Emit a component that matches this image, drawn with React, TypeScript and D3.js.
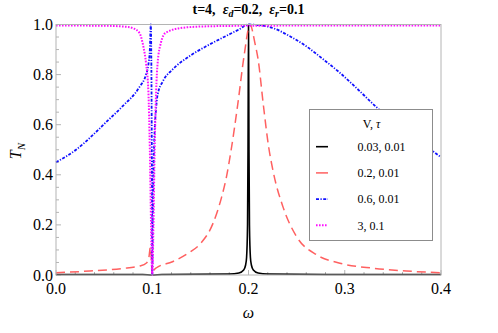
import React from "react";
import * as d3 from "d3";

// values: [omega, T_N]
const seriesBlack: [number, number][] = [
  [0, 0.002], [0.09, 0.002], [0.1, 0.0], [0.11, 0.002], [0.18, 0.004], [0.19, 0.008],
  [0.195, 0.02], [0.197, 0.04], [0.198, 0.07], [0.199, 0.2], [0.1995, 0.5], [0.2, 1.0],
  [0.2005, 0.5], [0.201, 0.2], [0.202, 0.07], [0.203, 0.04], [0.205, 0.02], [0.21, 0.008],
  [0.22, 0.004], [0.3, 0.002], [0.4, 0.002],
];

const seriesRed: [number, number][] = [
  [0, 0.009], [0.035, 0.016], [0.069, 0.026], [0.087, 0.036], [0.094, 0.048], [0.0965, 0.07],
  [0.098, 0.11], [0.099, 0.07], [0.0997, 0.02], [0.1, 0.0], [0.1008, 0.012], [0.104, 0.028],
  [0.121, 0.053], [0.1385, 0.09], [0.15, 0.125], [0.163, 0.205], [0.172, 0.31], [0.177, 0.39],
  [0.182, 0.5], [0.1888, 0.68], [0.1956, 0.88], [0.2015, 1.0], [0.207, 0.92], [0.21, 0.86],
  [0.2154, 0.68], [0.2206, 0.52], [0.2258, 0.41], [0.236, 0.27], [0.25, 0.153], [0.271, 0.08],
  [0.295, 0.047], [0.33, 0.027], [0.364, 0.016], [0.4, 0.009],
];

const seriesBlue: [number, number][] = [
  [0, 0.45], [0.0208, 0.5], [0.04, 0.565], [0.052, 0.61], [0.069, 0.673], [0.0866, 0.75],
  [0.0935, 0.8], [0.096, 0.84], [0.0975, 0.9], [0.0985, 1.0], [0.0993, 0.7], [0.0998, 0.25],
  [0.1, 0.0], [0.1005, 0.2], [0.1012, 0.4], [0.1022, 0.55], [0.1039, 0.66], [0.1056, 0.72],
  [0.111, 0.773], [0.121, 0.82], [0.1385, 0.873], [0.156, 0.913], [0.173, 0.947], [0.19, 0.98],
  [0.2, 1.0], [0.21, 0.998], [0.226, 0.985], [0.243, 0.953], [0.26, 0.913], [0.278, 0.86],
  [0.295, 0.807], [0.312, 0.747], [0.333, 0.67], [0.36, 0.585], [0.391, 0.496], [0.4, 0.47],
];

const seriesMagenta: [number, number][] = [
  [0, 0.996], [0.05, 0.995], [0.075, 0.99], [0.08, 0.985], [0.0866, 0.967], [0.0907, 0.913],
  [0.0935, 0.847], [0.096, 0.73], [0.0975, 0.5], [0.0988, 0.19], [0.0996, 0.03], [0.1, 0.0],
  [0.1004, 0.03], [0.1012, 0.19], [0.1025, 0.5], [0.104, 0.73], [0.1056, 0.847], [0.109, 0.927],
  [0.114, 0.967], [0.1316, 0.987], [0.16, 0.993], [0.2, 0.995], [0.3, 0.996], [0.4, 0.996],
];

const legendLabels = ["0.03, 0.01", "0.2, 0.01", "0.6, 0.01", "3, 0.1"];
const xTicks = [0, 0.1, 0.2, 0.3, 0.4];
const yTicks = [0, 0.2, 0.4, 0.6, 0.8, 1.0];

const FONT = "'Liberation Serif', 'Times New Roman', serif";

const App = () => {
  const width = 498;
  const height = 333;
  const x = d3.scaleLinear().domain([0, 0.4]).range([56, 441]);
  const y = d3.scaleLinear().domain([0, 1]).range([275, 24.5]);

  const line = d3
    .line<[number, number]>()
    .x((d) => x(d[0]))
    .y((d) => y(d[1]))
    .curve(d3.curveMonotoneX);

  const styles = [
    { data: seriesBlack, color: "#000000", dash: "none", w: 1.6 },
    { data: seriesRed, color: "#ff6060", dash: "9,5", w: 1.5 },
    { data: seriesBlue, color: "#1010ff", dash: "3,1.5,1.2,1.5", w: 1.8 },
    { data: seriesMagenta, color: "#ff10ff", dash: "1.6,1.4", w: 2 },
  ];

  const xMinor = d3.range(0, 0.4001, 0.02);
  const yMinor = d3.range(0, 1.0001, 0.05);
  const frame = "#b4b4b4";

  return (
    <svg width={width} height={height} style={{ position: "absolute", left: 0, top: 0 }}>
      <rect x={0} y={0} width={width} height={height} fill="#fff" />
      {/* title */}
      <text x={248.5} y={13.5} textAnchor="middle" fontFamily={FONT} fontSize={14} fontWeight="bold">
        t=4,{"\u00a0\u00a0"}
        <tspan fontStyle="italic">ε</tspan>
        <tspan fontSize={10} dy={3} fontStyle="italic">d</tspan>
        <tspan dy={-3}>=0.2,{"\u00a0\u00a0"}</tspan>
        <tspan fontStyle="italic">ε</tspan>
        <tspan fontSize={10} dy={3} fontStyle="italic">r</tspan>
        <tspan dy={-3}>=0.1</tspan>
      </text>

      {/* ticks */}
      <g stroke={frame} strokeWidth={1}>
        {xMinor.map((t, i) => (
          <line key={"xm" + i} x1={x(t)} x2={x(t)} y1={y(0)} y2={y(0) - (i % 5 === 0 ? 5 : 3)} />
        ))}
        {yMinor.map((t, i) => (
          <line key={"ym" + i} x1={x(0)} x2={x(0) + (i % 4 === 0 ? 5 : 3)} y1={y(t)} y2={y(t)} />
        ))}
      </g>

      {/* curves */}
      {styles.map((s, i) => (
        <path
          key={i}
          d={line(s.data) || ""}
          fill="none"
          stroke={s.color}
          strokeWidth={s.w}
          strokeDasharray={s.dash}
        />
      ))}

      {/* frame */}
      <rect x={x(0)} y={y(1)} width={x(0.4) - x(0)} height={y(0) - y(1)} fill="none" stroke={frame} strokeWidth={1} />

      {/* tick labels */}
      {xTicks.map((t) => (
        <text key={"xl" + t} x={x(t)} y={294} textAnchor="middle" fontFamily={FONT} fontSize={16}>
          {t.toFixed(1)}
        </text>
      ))}
      {yTicks.map((t) => (
        <text key={"yl" + t} x={53} y={y(t) + 5.5} textAnchor="end" fontFamily={FONT} fontSize={16}>
          {t.toFixed(1)}
        </text>
      ))}

      {/* axis labels */}
      <text x={248.5} y={318} textAnchor="middle" fontFamily={FONT} fontSize={16} fontStyle="italic">
        ω
      </text>
      <text transform="translate(21,151) rotate(-90)" textAnchor="middle" fontFamily={FONT} fontSize={16} fontStyle="italic">
        T<tspan fontSize={11} dy={4}>N</tspan>
      </text>

      {/* legend */}
      <rect x={309.5} y={109.5} width={123} height={131} fill="#fff" stroke="#8c8c8c" strokeWidth={1} />
      <text x={371.5} y={128} textAnchor="middle" fontFamily={FONT} fontSize={12}>
        V, <tspan fontStyle="italic">τ</tspan>
      </text>
      {styles.map((s, i) => {
        const ry = 146.7 + i * 26.2;
        return (
          <g key={"lg" + i}>
            <line x1={316} x2={328} y1={ry} y2={ry} stroke={s.color} strokeWidth={s.w} strokeDasharray={s.dash === "9,5" ? "none" : s.dash} />
            <text x={357.5} y={ry + 4.2} fontFamily={FONT} fontSize={12}>
              {legendLabels[i]}
            </text>
          </g>
        );
      })}
    </svg>
  );
};

export default App;
